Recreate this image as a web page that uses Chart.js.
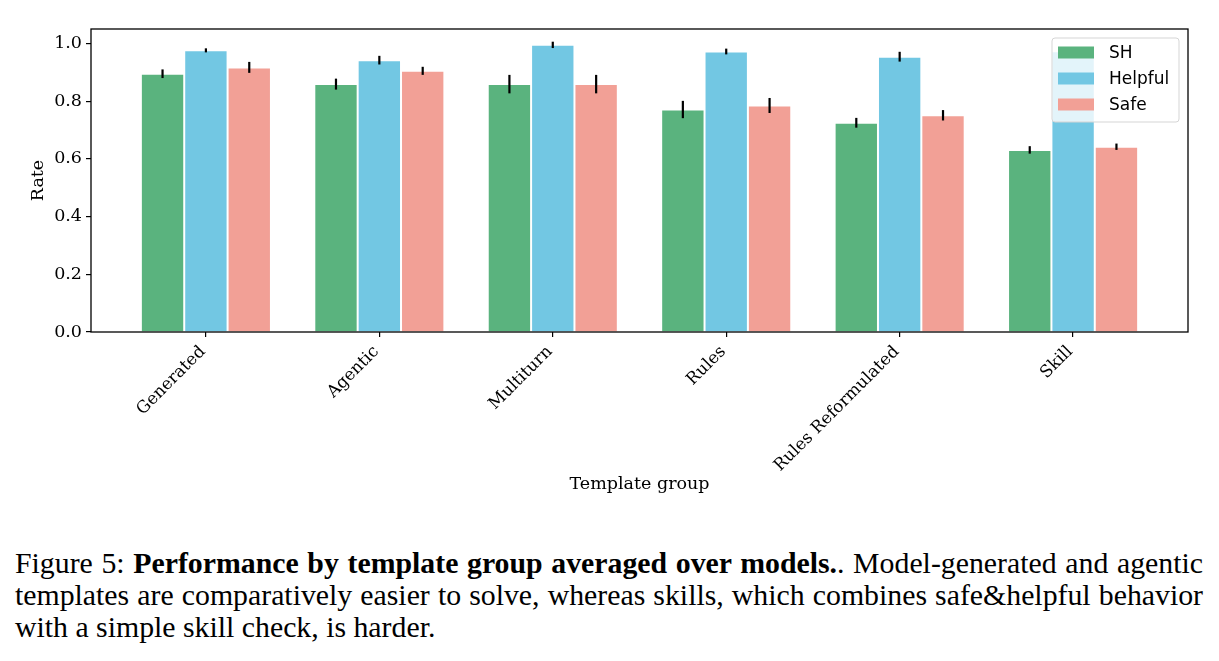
<!DOCTYPE html>
<html><head><meta charset="utf-8">
<script src="https://cdn.jsdelivr.net/npm/chart.js@4.4.1/dist/chart.umd.min.js"></script>
<style>
html,body{margin:0;padding:0;background:#fff;}
body{width:1219px;height:661px;position:relative;overflow:hidden;}
#wrap{position:absolute;left:0;top:0;width:1219px;height:510px;}
#cap{position:absolute;left:15px;top:547px;width:1188px;font-family:'Liberation Serif','Times New Roman',serif;font-size:29.8px;line-height:32px;color:#000;}
#cap .j{text-align:justify;text-align-last:justify;}
#cap b{font-weight:bold;}
</style></head>
<body>
<div id="wrap"><canvas id="c" width="1219" height="510"></canvas></div>
<div id="cap">
<div class="j">Figure 5: <b>Performance by template group averaged over models.</b>. Model-generated and agentic</div>
<div class="j">templates are comparatively easier to solve, whereas skills, which combines safe&amp;helpful behavior</div>
<div>with a simple skill check, is harder.</div>
</div>
<script>
const categories = ['Generated', 'Agentic', 'Multiturn', 'Rules', 'Rules Reformulated', 'Skill'];
const seriesNames = ['SH', 'Helpful', 'Safe'];
const shValues      = [0.895, 0.859, 0.859, 0.771, 0.725, 0.631];
const helpfulValues = [0.976, 0.942, 0.995, 0.972, 0.954, 0.973];
const safeValues    = [0.917, 0.905, 0.859, 0.785, 0.751, 0.642];
const shErr      = [0.015, 0.019, 0.032, 0.030, 0.017, 0.013];
const helpfulErr = [0.007, 0.015, 0.011, 0.010, 0.017, 0.010];
const safeErr    = [0.019, 0.014, 0.032, 0.026, 0.018, 0.011];
const yTickValues = [0.0, 0.2, 0.4, 0.6, 0.8, 1.0];
const colors = ['#5ab37e', '#72c7e3', '#f2a096'];

const allValues = [shValues, helpfulValues, safeValues];
const allErr = [shErr, helpfulErr, safeErr];

const SERIF = "'DejaVu Serif', serif";
const SANS = "'DejaVu Sans', sans-serif";
Chart.defaults.color = '#000';

const datasets = seriesNames.map((name, i) => ({
  label: name,
  data: allValues[i].map((v, j) => ({x: j, y: v})),
  backgroundColor: colors[i],
  borderColor: 'rgba(255,255,255,0.35)',
  borderWidth: 1,
  borderSkipped: 'start',
  categoryPercentage: 0.75,
  barPercentage: 1.0
}));

const plugin = {
  id: 'extras',
  afterDatasetsDraw(chart) {
    const ctx = chart.ctx, ys = chart.scales.y;
    ctx.save();
    ctx.strokeStyle = '#000';
    ctx.lineWidth = 2.2;
    chart.data.datasets.forEach((ds, i) => {
      const meta = chart.getDatasetMeta(i);
      meta.data.forEach((el, j) => {
        const v = allValues[i][j], e = allErr[i][j];
        ctx.beginPath();
        ctx.moveTo(el.x, ys.getPixelForValue(v + e));
        ctx.lineTo(el.x, ys.getPixelForValue(v - e));
        ctx.stroke();
      });
    });
    ctx.restore();
  },
  afterDraw(chart) {
    const ctx = chart.ctx, a = chart.chartArea;
    ctx.save();
    ctx.strokeStyle = '#000';
    ctx.lineWidth = 1.3;
    ctx.strokeRect(a.left, a.top, a.right - a.left, a.bottom - a.top);
    // legend
    const bx = a.right - 9 - 127, by = a.top + 9, bw = 127, bh = 84, r = 3;
    ctx.beginPath();
    ctx.moveTo(bx + r, by);
    ctx.lineTo(bx + bw - r, by); ctx.arcTo(bx + bw, by, bx + bw, by + r, r);
    ctx.lineTo(bx + bw, by + bh - r); ctx.arcTo(bx + bw, by + bh, bx + bw - r, by + bh, r);
    ctx.lineTo(bx + r, by + bh); ctx.arcTo(bx, by + bh, bx, by + bh - r, r);
    ctx.lineTo(bx, by + r); ctx.arcTo(bx, by, bx + r, by, r);
    ctx.closePath();
    ctx.fillStyle = 'rgba(255,255,255,0.8)';
    ctx.fill();
    ctx.strokeStyle = '#d5d5d5';
    ctx.lineWidth = 1;
    ctx.stroke();
    ctx.font = '17px ' + SANS;
    ctx.textBaseline = 'middle';
    ctx.textAlign = 'left';
    chart.data.datasets.forEach((ds, i) => {
      const cy = by + 14.5 + i * 26;
      ctx.fillStyle = ds.backgroundColor;
      ctx.fillRect(bx + 6, cy - 6, 36, 12);
      ctx.fillStyle = '#000';
      ctx.fillText(ds.label, bx + 57, cy + 1);
    });
    ctx.restore();
  }
};

new Chart(document.getElementById('c'), {
  type: 'bar',
  data: {datasets},
  options: {
    responsive: false,
    animation: false,
    layout: {padding: {top: 29, right: 31, left: 0, bottom: 0}},
    plugins: {legend: {display: false}, tooltip: {enabled: false}},
    scales: {
      x: {
        type: 'linear',
        offset: false,
        min: -0.6625,
        max: 5.6625,
        afterBuildTicks: (s) => { s.ticks = categories.map((_, i) => ({value: i})); },
        afterFit: (s) => { s.height = 178; },
        ticks: {
          autoSkip: false,
          minRotation: 45,
          maxRotation: 45,
          padding: 5,
          labelOffset: -3,
          font: {family: SERIF, size: 16.8},
          callback: (v) => categories[v]
        },
        grid: {display: true, drawOnChartArea: false, drawTicks: true, tickLength: 5, color: '#000', lineWidth: 1.2, offset: false},
        border: {display: false},
        title: {display: true, text: 'Template group', font: {family: SERIF, size: 17.5}, padding: {top: 4, bottom: 15.5}}
      },
      y: {
        type: 'linear',
        min: 0,
        max: 1.05,
        afterBuildTicks: (s) => { s.ticks = yTickValues.map(v => ({value: v})); },
        afterFit: (s) => { s.width = 91; },
        ticks: {
          padding: 4,
          font: {family: SERIF, size: 17.5},
          callback: (v) => Number(v).toFixed(1)
        },
        grid: {display: true, drawOnChartArea: false, drawTicks: true, tickLength: 5, color: '#000', lineWidth: 1.2},
        border: {display: false},
        title: {display: true, text: 'Rate', font: {family: SERIF, size: 17.5}, padding: {top: 28, bottom: 0}}
      }
    }
  },
  plugins: [plugin]
});
</script>
</body></html>
